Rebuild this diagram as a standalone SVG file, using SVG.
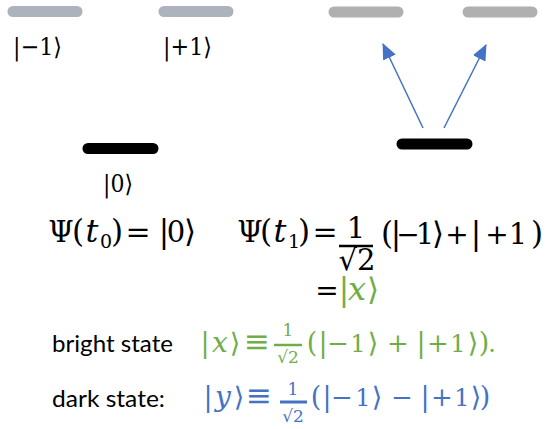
<svg xmlns="http://www.w3.org/2000/svg" width="559" height="429" viewBox="0 0 559 429">
<style>
.m{font-family:"DejaVu Serif","Liberation Serif",serif;font-size:29px;fill:#000;text-anchor:middle}
.n{font-size:24px}
.ti{font-size:32px;font-style:italic}
.op{font-size:28px}
.eqs{font-size:30px}
.opn{font-size:26px}
.eqv{font-size:31px}
.par{font-size:31px}
.parn{font-size:27px}
.xi{font-size:28px;font-style:italic}
.sub{font-size:19px}
.fr{font-size:17px}
.s{font-family:Lato,"Open Sans","Liberation Sans",sans-serif;font-size:24px;fill:#000}
.g{fill:#70ad47}
.b{fill:#4472c4}
.lvl{stroke-linecap:round;stroke-width:11;fill:none}
</style>
<defs>
<marker id="ah" viewBox="0 0 16 14" refX="15" refY="7" markerWidth="16" markerHeight="14" orient="auto" markerUnits="userSpaceOnUse">
<path d="M0,0 L16,7 L0,14 z" fill="#4472c4"/>
</marker>
</defs>
<g id="level-m1"><line class="lvl" x1="13" y1="11.5" x2="77" y2="11.5" stroke="#adb3bd"/><text class="m n" x="13" y="55" style="text-anchor:start" textLength="49" lengthAdjust="spacingAndGlyphs">|−1⟩</text></g>
<g id="level-p1"><line class="lvl" x1="164" y1="11.5" x2="228" y2="11.5" stroke="#adb3bd"/><text class="m n" x="163" y="55" style="text-anchor:start" textLength="49" lengthAdjust="spacingAndGlyphs">|+1⟩</text></g>
<g id="level-0"><line class="lvl" x1="88" y1="148.5" x2="153" y2="148.5" stroke="#000"/><text class="m n" x="103" y="192" style="text-anchor:start" textLength="30" lengthAdjust="spacingAndGlyphs">|0⟩</text></g>
<g id="level-m1-r"><line class="lvl" x1="334" y1="12" x2="398" y2="12" stroke="#b0b0b0"/></g>
<g id="level-p1-r"><line class="lvl" x1="468" y1="12" x2="532" y2="12" stroke="#b0b0b0"/></g>
<g id="level-0-r"><line class="lvl" x1="402" y1="144" x2="467" y2="144" stroke="#000"/></g>
<g id="connectors" stroke="#4472c4" stroke-width="1.5" fill="none">
<line x1="423" y1="128" x2="383" y2="44" marker-end="url(#ah)"/>
<line x1="444" y1="128" x2="486" y2="45" marker-end="url(#ah)"/>
</g>
<g id="eq0">
<text class="m" y="242"><tspan x="61">Ψ</tspan><tspan class="par" x="78">(</tspan><tspan class="ti" x="92">t</tspan><tspan class="sub" x="106" y="248">0</tspan><tspan class="par" x="117" y="242">)</tspan><tspan class="eqs" x="138">=</tspan><tspan class="par" x="164">|</tspan><tspan x="176">0</tspan><tspan class="par" x="190">⟩</tspan></text>
</g>
<g id="eq1">
<text class="m" y="242"><tspan x="250">Ψ</tspan><tspan class="par" x="266">(</tspan><tspan class="ti" x="280">t</tspan><tspan class="sub" x="294" y="248">1</tspan><tspan class="par" x="304" y="242">)</tspan><tspan class="eqs" x="325">=</tspan></text>
<text class="m" x="356" y="238">1</text>
<line x1="339" y1="246" x2="373" y2="246" stroke="#000" stroke-width="2.5"/>
<text class="m" x="357" y="270">√2</text>
<text class="m" y="244"><tspan class="par" x="387">(</tspan><tspan class="par" x="396">|</tspan><tspan class="op" x="408">−</tspan><tspan x="425">1</tspan><tspan class="par" x="438">⟩</tspan><tspan class="op" x="457">+</tspan><tspan class="par" x="476">|</tspan><tspan class="op" x="497">+</tspan><tspan x="518">1</tspan><tspan class="par" x="537">)</tspan></text>
<text class="m g" y="300"><tspan class="op" x="327" fill="#000">=</tspan><tspan class="par" x="344">|</tspan><tspan class="ti" x="357">x</tspan><tspan class="par" x="373">⟩</tspan></text>
</g>
<g id="bright">
<text class="s" x="52" y="352" textLength="121" lengthAdjust="spacingAndGlyphs">bright state</text>
<text class="m n g" y="352"><tspan class="parn" x="205">|</tspan><tspan class="xi" x="220">x</tspan><tspan class="parn" x="235">⟩</tspan><tspan class="eqv" x="257">≡</tspan></text>
<text class="m fr g" x="288" y="336">1</text>
<line x1="274" y1="345" x2="302" y2="345" stroke="#70ad47" stroke-width="2.5"/>
<text class="m fr g" x="288" y="363">√2</text>
<text class="m n g" y="352"><tspan class="parn" x="312">(</tspan><tspan class="parn" x="323">|</tspan><tspan class="opn" x="338">−</tspan><tspan x="358">1</tspan><tspan class="parn" x="373">⟩</tspan><tspan class="opn" x="398">+</tspan><tspan class="parn" x="421">|</tspan><tspan class="opn" x="438">+</tspan><tspan x="458">1</tspan><tspan class="parn" x="473">⟩</tspan><tspan class="parn" x="484">)</tspan><tspan x="492">.</tspan></text>
</g>
<g id="dark">
<text class="s" x="52" y="407" textLength="113" lengthAdjust="spacingAndGlyphs">dark state:</text>
<text class="m n b" y="406"><tspan class="parn" x="208">|</tspan><tspan class="xi" x="223">y</tspan><tspan class="parn" x="239">⟩</tspan><tspan class="eqv" x="259">≡</tspan></text>
<text class="m fr b" x="293" y="395">1</text>
<line x1="280" y1="402" x2="307" y2="402" stroke="#4472c4" stroke-width="3"/>
<text class="m fr b" x="293" y="422">√2</text>
<text class="m n b" y="406"><tspan class="parn" x="316">(</tspan><tspan class="parn" x="327">|</tspan><tspan class="opn" x="342">−</tspan><tspan x="363">1</tspan><tspan class="parn" x="377">⟩</tspan><tspan class="opn" x="402">−</tspan><tspan class="parn" x="425">|</tspan><tspan class="opn" x="442">+</tspan><tspan x="462">1</tspan><tspan class="parn" x="476">⟩</tspan><tspan class="parn" x="485">)</tspan></text>
</g>
</svg>
